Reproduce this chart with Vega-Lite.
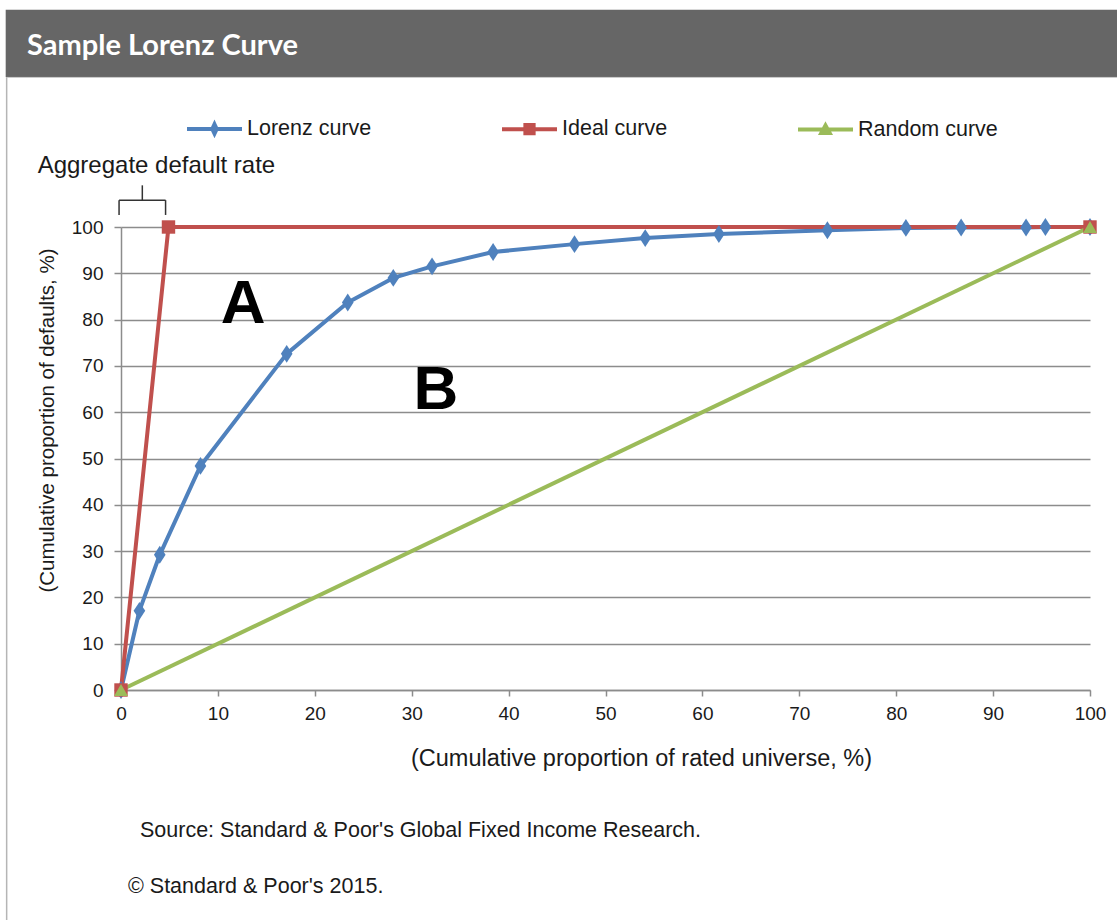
{
  "$schema": "https://vega.github.io/schema/vega-lite/v6.json",
  "width": 969,
  "height": 463,
  "autosize": {"type": "none"},
  "padding": {"left": 121, "top": 227, "right": 27, "bottom": 230},
  "background": "#ffffff",
  "config": {
    "view": {"stroke": null},
    "font": "Liberation Sans",
    "text": {"font": "Liberation Sans", "color": "#1a1a1a"}
  },
  "datasets": {
    "curves": [
      {"series": "Lorenz curve", "x": 0, "y": 0},
      {"series": "Lorenz curve", "x": 1.9, "y": 17.1},
      {"series": "Lorenz curve", "x": 4.0, "y": 29.2},
      {"series": "Lorenz curve", "x": 8.2, "y": 48.4},
      {"series": "Lorenz curve", "x": 17.1, "y": 72.6},
      {"series": "Lorenz curve", "x": 23.4, "y": 83.7},
      {"series": "Lorenz curve", "x": 28.1, "y": 89.0},
      {"series": "Lorenz curve", "x": 32.1, "y": 91.5},
      {"series": "Lorenz curve", "x": 38.4, "y": 94.6},
      {"series": "Lorenz curve", "x": 46.8, "y": 96.3},
      {"series": "Lorenz curve", "x": 54.1, "y": 97.6},
      {"series": "Lorenz curve", "x": 61.7, "y": 98.5},
      {"series": "Lorenz curve", "x": 72.9, "y": 99.3},
      {"series": "Lorenz curve", "x": 81.0, "y": 99.8},
      {"series": "Lorenz curve", "x": 86.7, "y": 99.9},
      {"series": "Lorenz curve", "x": 93.4, "y": 99.9},
      {"series": "Lorenz curve", "x": 95.4, "y": 100},
      {"series": "Lorenz curve", "x": 100, "y": 100},
      {"series": "Ideal curve", "x": 0, "y": 0},
      {"series": "Ideal curve", "x": 4.9, "y": 100},
      {"series": "Ideal curve", "x": 100, "y": 100},
      {"series": "Random curve", "x": 0, "y": 0},
      {"series": "Random curve", "x": 100, "y": 100}
    ]
  },
  "layer": [
    {
      "data": {"values": [{"k": 1}]},
      "mark": {"type": "rect", "fill": "#666666", "clip": false},
      "encoding": {
        "x": {"datum": -11.9, "type": "quantitative"},
        "x2": {"datum": 103.5},
        "y": {"datum": 146.9, "type": "quantitative"},
        "y2": {"datum": 132.4}
      }
    },
    {
      "data": {"values": [{"k": 1}]},
      "mark": {"type": "rule", "stroke": "#b5b5b5", "strokeWidth": 1.5, "clip": false},
      "encoding": {
        "x": {"datum": -11.8, "type": "quantitative"},
        "y": {"datum": 132.4, "type": "quantitative"},
        "y2": {"datum": -50}
      }
    },
    {
      "data": {"values": [{"k": 1}]},
      "mark": {"type": "rule", "stroke": "#c8c8c8", "strokeWidth": 1, "clip": false},
      "encoding": {
        "x": {"datum": -11.8, "type": "quantitative"},
        "x2": {"datum": 103.5},
        "y": {"datum": 132.3, "type": "quantitative"}
      }
    },
    {
      "data": {"values": [{"t": "Sample Lorenz Curve"}]},
      "mark": {"type": "text", "font": "Lato", "fontWeight": "bold", "fontSize": 29, "color": "#ffffff", "align": "left", "baseline": "alphabetic", "clip": false},
      "encoding": {
        "text": {"field": "t"},
        "x": {"datum": -9.7, "type": "quantitative"},
        "y": {"datum": 137.2, "type": "quantitative"}
      }
    },
    {
      "data": {"values": [{"t": "Aggregate default rate"}]},
      "mark": {"type": "text", "fontSize": 24, "align": "left", "baseline": "alphabetic", "clip": false},
      "encoding": {
        "text": {"field": "t"},
        "x": {"datum": -8.6, "type": "quantitative"},
        "y": {"datum": 111.6, "type": "quantitative"}
      }
    },
    {
      "data": {"values": [{"k": 1}]},
      "mark": {"type": "rule", "stroke": "#333333", "strokeWidth": 1.5, "clip": false},
      "encoding": {
        "x": {"datum": -0.2, "type": "quantitative"},
        "x2": {"datum": 4.6},
        "y": {"datum": 105.8, "type": "quantitative"}
      }
    },
    {
      "data": {"values": [{"k": 1}]},
      "mark": {"type": "rule", "stroke": "#333333", "strokeWidth": 1.5, "clip": false},
      "encoding": {
        "x": {"datum": -0.2, "type": "quantitative"},
        "y": {"datum": 102.6, "type": "quantitative"},
        "y2": {"datum": 105.8}
      }
    },
    {
      "data": {"values": [{"k": 1}]},
      "mark": {"type": "rule", "stroke": "#333333", "strokeWidth": 1.5, "clip": false},
      "encoding": {
        "x": {"datum": 4.6, "type": "quantitative"},
        "y": {"datum": 102.6, "type": "quantitative"},
        "y2": {"datum": 105.8}
      }
    },
    {
      "data": {"values": [{"k": 1}]},
      "mark": {"type": "rule", "stroke": "#333333", "strokeWidth": 1.5, "clip": false},
      "encoding": {
        "x": {"datum": 2.2, "type": "quantitative"},
        "y": {"datum": 105.8, "type": "quantitative"},
        "y2": {"datum": 109.0}
      }
    },
    {
      "data": {"name": "curves"},
      "mark": {"type": "line", "strokeWidth": 4, "strokeJoin": "round"},
      "encoding": {
        "x": {
          "field": "x",
          "type": "quantitative",
          "scale": {"domain": [0, 100], "nice": false, "zero": false},
          "axis": {
            "values": [0, 10, 20, 30, 40, 50, 60, 70, 80, 90, 100],
            "title": "(Cumulative proportion of rated universe, %)",
            "grid": false,
            "labelFlush": false,
            "domainColor": "#8c8c8c",
            "domainWidth": 1.5,
            "tickColor": "#8c8c8c",
            "tickWidth": 1.5,
            "tickSize": 6,
            "labelFont": "Liberation Sans",
            "labelFontSize": 19,
            "labelColor": "#1a1a1a",
            "labelPadding": 8,
            "titleFont": "Liberation Sans",
            "titleFontSize": 23.5,
            "titleFontWeight": "normal",
            "titleColor": "#1a1a1a",
            "titleX": 520,
            "titleY": 75,
            "titleAlign": "center",
            "titleBaseline": "alphabetic"
          }
        },
        "y": {
          "field": "y",
          "type": "quantitative",
          "scale": {"domain": [0, 100], "nice": false, "zero": false},
          "axis": {
            "values": [0, 10, 20, 30, 40, 50, 60, 70, 80, 90, 100],
            "title": "(Cumulative proportion of defaults, %)",
            "grid": true,
            "labelFlush": false,
            "gridColor": "#8c8c8c",
            "gridWidth": 1.5,
            "domainColor": "#8c8c8c",
            "domainWidth": 1.5,
            "tickColor": "#8c8c8c",
            "tickWidth": 1.5,
            "tickSize": 7,
            "labelFont": "Liberation Sans",
            "labelFontSize": 19,
            "labelColor": "#1a1a1a",
            "labelPadding": 11,
            "titleFont": "Liberation Sans",
            "titleFontSize": 20.5,
            "titleFontWeight": "normal",
            "titleColor": "#1a1a1a",
            "titleX": -74,
            "titleY": 193,
            "titleAngle": 270,
            "titleAlign": "center",
            "titleBaseline": "middle"
          }
        },
        "color": {
          "field": "series",
          "type": "nominal",
          "scale": {
            "domain": ["Lorenz curve", "Ideal curve", "Random curve"],
            "range": ["#4F81BD", "#C0504D", "#9BBB59"]
          },
          "legend": {
            "orient": "none",
            "legendX": 64,
            "legendY": -128,
            "direction": "horizontal",
            "title": null,
            "symbolSize": 3025,
            "symbolStrokeWidth": 4,
            "labelFont": "Liberation Sans",
            "labelFontSize": 21.5,
            "labelColor": "#1a1a1a",
            "labelOffset": 3,
            "columnPadding": 122,
            "encode": {
              "symbols": {
                "update": {
                  "shape": {"signal": "datum.value === 'Lorenz curve' ? 'M-1,0H1M0,-0.17L0.08,0L0,0.17L-0.08,0Z' : datum.value === 'Ideal curve' ? 'M-1,0H1M-0.15,-0.15H0.15V0.15H-0.15Z' : 'M-1,0H1M0,-0.15L0.15,0.12H-0.15Z'"},
                  "fill": {"signal": "scale('color', datum.value)"},
                  "stroke": {"signal": "scale('color', datum.value)"},
                  "strokeWidth": {"value": 4},
                  "opacity": {"value": 1}
                }
              }
            }
          }
        }
      }
    },
    {
      "data": {"name": "curves"},
      "transform": [{"filter": "datum.series === 'Lorenz curve'"}],
      "mark": {"type": "point", "filled": true, "opacity": 1, "color": "#4F81BD", "shape": "M0,-1L0.65,0L0,1L-0.65,0Z", "size": 320},
      "encoding": {
        "x": {"field": "x", "type": "quantitative"},
        "y": {"field": "y", "type": "quantitative"}
      }
    },
    {
      "data": {"name": "curves"},
      "transform": [{"filter": "datum.series === 'Ideal curve'"}],
      "mark": {"type": "point", "filled": true, "opacity": 1, "color": "#C0504D", "shape": "square", "size": 180},
      "encoding": {
        "x": {"field": "x", "type": "quantitative"},
        "y": {"field": "y", "type": "quantitative"}
      }
    },
    {
      "data": {"name": "curves"},
      "transform": [{"filter": "datum.series === 'Random curve'"}],
      "mark": {"type": "point", "filled": true, "opacity": 1, "color": "#9BBB59", "shape": "triangle-up", "size": 190},
      "encoding": {
        "x": {"field": "x", "type": "quantitative"},
        "y": {"field": "y", "type": "quantitative"}
      }
    },
    {
      "data": {"values": [{"t": "A"}]},
      "mark": {"type": "text", "fontSize": 62, "fontWeight": "bold", "color": "#000000", "align": "center", "baseline": "alphabetic"},
      "encoding": {
        "text": {"field": "t"},
        "x": {"datum": 12.6, "type": "quantitative"},
        "y": {"datum": 79.2, "type": "quantitative"}
      }
    },
    {
      "data": {"values": [{"t": "B"}]},
      "mark": {"type": "text", "fontSize": 62, "fontWeight": "bold", "color": "#000000", "align": "center", "baseline": "alphabetic"},
      "encoding": {
        "text": {"field": "t"},
        "x": {"datum": 32.5, "type": "quantitative"},
        "y": {"datum": 60.6, "type": "quantitative"}
      }
    },
    {
      "data": {"values": [{"t": "Source: Standard & Poor's Global Fixed Income Research."}]},
      "mark": {"type": "text", "fontSize": 21.5, "align": "left", "baseline": "alphabetic", "clip": false},
      "encoding": {
        "text": {"field": "t"},
        "x": {"datum": 1.96, "type": "quantitative"},
        "y": {"datum": -31.8, "type": "quantitative"}
      }
    },
    {
      "data": {"values": [{"t": "© Standard & Poor's 2015."}]},
      "mark": {"type": "text", "fontSize": 21.5, "align": "left", "baseline": "alphabetic", "clip": false},
      "encoding": {
        "text": {"field": "t"},
        "x": {"datum": 0.72, "type": "quantitative"},
        "y": {"datum": -43.9, "type": "quantitative"}
      }
    }
  ]
}
